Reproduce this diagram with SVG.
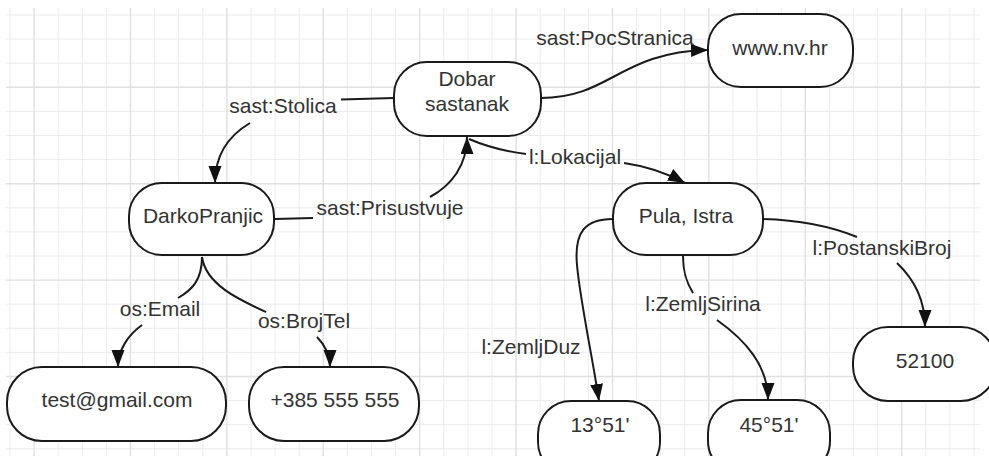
<svg xmlns="http://www.w3.org/2000/svg" width="989" height="456" viewBox="0 0 989 456">
<defs>
<style>
.minor{stroke:#ececec;stroke-width:1;fill:none}
.major{stroke:#e0e0e0;stroke-width:1.4;fill:none}
.node{fill:#ffffff;stroke:#1a1a1a;stroke-width:2}
.t{font-family:"Liberation Sans",Arial,sans-serif;font-size:21px;fill:#333333;text-anchor:middle}
.e{fill:none;stroke:#1a1a1a;stroke-width:2}
</style>
<marker id="arr" markerUnits="userSpaceOnUse" markerWidth="18" markerHeight="14" refX="17" refY="6.5" orient="auto">
<path d="M0,0 L17,6.5 L0,13 z" fill="#111111"/>
</marker>
</defs>
<rect width="989" height="456" fill="#ffffff"/>
<g id="grid">
<path class="minor" d="M10,8V456M58.2,8V456M82.3,8V456M106.4,8V456M154.6,8V456M178.7,8V456M202.8,8V456M251,8V456M275.1,8V456M299.2,8V456M347.4,8V456M371.5,8V456M395.6,8V456M443.8,8V456M467.9,8V456M492,8V456M540.2,8V456M564.3,8V456M588.4,8V456M636.6,8V456M660.7,8V456M684.8,8V456M733,8V456M757.1,8V456M781.2,8V456M829.4,8V456M853.5,8V456M877.6,8V456M925.8,8V456M949.9,8V456M974,8V456
M6,15H980M6,39.1H980M6,63.2H980M6,111.4H980M6,135.5H980M6,159.6H980M6,207.8H980M6,231.9H980M6,256H980M6,304.2H980M6,328.3H980M6,352.4H980M6,400.6H980M6,424.7H980M6,448.8H980"/>
<path class="major" d="M34.1,8V456M130.5,8V456M226.9,8V456M323.3,8V456M419.7,8V456M516.1,8V456M612.5,8V456M708.9,8V456M805.3,8V456M901.7,8V456
M6,87.3H980M6,183.7H980M6,280.1H980M6,376.5H980"/>
</g>
<g id="connectors">
<path class="e" d="M394,98 L341,99.5"/>
<path class="e" d="M250,123 C228,136 215,155 215,183" marker-end="url(#arr)"/>
<path class="e" d="M541,98 C610,98 620,52 708,50" marker-end="url(#arr)"/>
<path class="e" d="M275,219 L313,218"/>
<path class="e" d="M430,197 C452,185 467,165 467,137" marker-end="url(#arr)"/>
<path class="e" d="M469,139 C490,148 510,152 526,154"/>
<path class="e" d="M624,163 C645,166 665,172 685,183" marker-end="url(#arr)"/>
<path class="e" d="M613,219 C585,219 574,232 577,265 C580,300 593,360 599,401" marker-end="url(#arr)"/>
<path class="e" d="M683,256 C683,275 688,285 693,293"/>
<path class="e" d="M717,320 C745,340 768,365 768,400" marker-end="url(#arr)"/>
<path class="e" d="M763,219 C800,220 830,226 857,237"/>
<path class="e" d="M897,263 C915,280 925,300 925,327" marker-end="url(#arr)"/>
<path class="e" d="M202,257 C202,280 192,290 178,298"/>
<path class="e" d="M142,325 C128,335 118,350 118,367" marker-end="url(#arr)"/>
<path class="e" d="M202,257 C206,285 240,300 266,312"/>
<path class="e" d="M317,337 C325,345 330,355 330,367" marker-end="url(#arr)"/>
<text class="t" x="283" y="113">sast:Stolica</text>
<text class="t" x="615" y="45">sast:PocStranica</text>
<text class="t" x="390" y="215">sast:Prisustvuje</text>
<text class="t" x="575" y="164">l:Lokacijal</text>
<text class="t" x="160" y="316">os:Email</text>
<text class="t" x="304" y="328">os:BrojTel</text>
<text class="t" x="531" y="354">l:ZemljDuz</text>
<text class="t" x="703" y="311">l:ZemljSirina</text>
<text class="t" x="882" y="255">l:PostanskiBroj</text>
</g>
<g id="dobar"><rect class="node" x="394" y="62" width="147" height="74" rx="33"/><text class="t" x="467" y="86">Dobar</text><text class="t" x="467" y="111">sastanak</text></g>
<g id="www"><rect class="node" x="708" y="14" width="145" height="73" rx="33"/><text class="t" x="780" y="55">www.nv.hr</text></g>
<g id="darko"><rect class="node" x="129" y="183" width="145" height="72" rx="33"/><text class="t" x="203" y="223">DarkoPranjic</text></g>
<g id="pula"><rect class="node" x="613" y="183" width="150" height="72" rx="33"/><text class="t" x="686" y="223">Pula, Istra</text></g>
<g id="email"><rect class="node" x="7" y="367" width="219" height="74" rx="35"/><text class="t" x="117" y="407">test@gmail.com</text></g>
<g id="tel"><rect class="node" x="249" y="367" width="170" height="74" rx="35"/><text class="t" x="335" y="407">+385 555 555</text></g>
<g id="duz"><rect class="node" x="538" y="401" width="122" height="74" rx="33"/><text class="t" x="600" y="432">13°51'</text></g>
<g id="sirina"><rect class="node" x="708" y="400" width="122" height="74" rx="33"/><text class="t" x="769" y="432">45°51'</text></g>
<g id="postbroj"><rect class="node" x="853" y="327" width="143" height="74" rx="35"/><text class="t" x="925" y="368">52100</text></g>
</svg>
